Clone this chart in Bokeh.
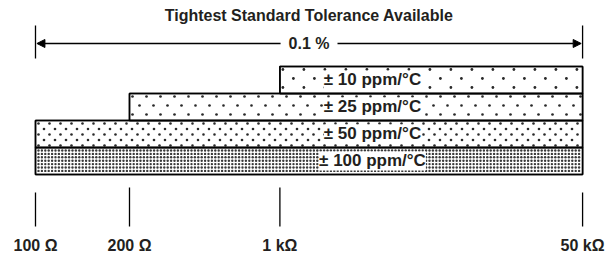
import numpy as np
from bokeh.plotting import figure
from bokeh.models import ColumnDataSource, LabelSet, Arrow, NormalHead, Label, Range1d
from bokeh.core.properties import value
from bokeh.embed import file_html
from bokeh.resources import INLINE

# ---- data ----
resistances = ["100 Ω", "200 Ω", "1 kΩ", "50 kΩ"]
res_pos = [0.0, 1.0, 2.6, 5.82]          # schematic (non-scaled) axis positions
tcr_labels = ["± 100 ppm/°C", "± 50 ppm/°C", "± 25 ppm/°C", "± 10 ppm/°C"]
tcr_min_res = ["100 Ω", "100 Ω", "200 Ω", "1 kΩ"]
tcr_max_res = ["50 kΩ", "50 kΩ", "50 kΩ", "50 kΩ"]
tolerance_text = "0.1 %"
title_text = "Tightest Standard Tolerance Available"

pos = dict(zip(resistances, res_pos))
rows = list(range(len(tcr_labels)))

FONT = "Liberation Sans"
INK = "#231f20"
PX_X = 94.0   # screen pixels per x unit
PX_Y = 27.0   # screen pixels per y unit (one bar)

p = figure(width=608, height=254, output_backend="svg", toolbar_location=None,
           x_range=Range1d(-0.3723, 6.0957), y_range=Range1d(-2.963, 6.444),
           min_border=0, outline_line_color=None)
p.axis.visible = False
p.grid.visible = False

# bars
left = [pos[r] for r in tcr_min_res]
right = [pos[r] for r in tcr_max_res]
p.quad(left=left, right=right, bottom=rows, top=[r + 1 for r in rows],
       fill_color="white", line_color="black", line_width=1.5)

# dot textures inside each bar: (dx px, dy px, staggered rows, dot size, colour)
styles = [(3.4, 3.4, False, 2.4, "#3a3a3a"),   # ±100
          (11.0, 5.5, True, 2.6, "#2a2a2a"),   # ±50
          (14.0, 9.0, True, 2.7, "#2a2a2a"),   # ±25
          (21.0, 9.0, True, 2.8, "#2a2a2a")]   # ±10
for i in rows:
    dx, dy, stag, sz, col = styles[i]
    xs, ys = [], []
    top_px = 3.0
    r = 0
    while top_px + r * dy < PX_Y - 1.5:
        ypx = top_px + r * dy
        off = (dx / 2 if (stag and r % 2) else 0.0) + 3.0
        xpx = np.arange(off, (right[i] - left[i]) * PX_X - 1.5, dx)
        xs.extend(left[i] + xpx / PX_X)
        ys.extend([i + 1 - ypx / PX_Y] * len(xpx))
        r += 1
    p.scatter(x=xs, y=ys, marker="circle", size=sz, fill_color=col, line_color=None)

# redraw bar outlines on top of dots
p.quad(left=left, right=right, bottom=rows, top=[r + 1 for r in rows],
       fill_color=None, line_color="black", line_width=1.5)

# bar labels
lab_src = ColumnDataSource(dict(x=[3.585] * len(rows), y=[r + 0.5 for r in rows], t=tcr_labels))
p.add_layout(LabelSet(x="x", y="y", text="t", source=lab_src,
                      text_align="center", text_baseline="middle",
                      text_font=value(FONT), text_font_style="bold", text_font_size="17px",
                      text_color=INK,
                      background_fill_color="white", background_fill_alpha=1.0))

# resistance ticks and labels
long_ticks = {"200 Ω", "1 kΩ"}
tick_top = [-0.481 if r in long_ticks else -0.667 for r in resistances]
p.segment(x0=res_pos, x1=res_pos, y0=tick_top, y1=[-1.926] * len(res_pos),
          line_color="black", line_width=1.3)
p.text(x=res_pos, y=[-2.62] * len(res_pos), text=resistances,
       text_align="center", text_baseline="middle",
       text_font=value(FONT), text_font_style="bold", text_font_size="16px",
       text_color=INK)

# tolerance span
x0, x1 = res_pos[0], res_pos[-1]
xm = (x0 + x1) / 2
p.segment(x0=[x0, x1], x1=[x0, x1], y0=[5.519, 5.519], y1=[4.296, 4.296],
          line_color="black", line_width=1.3)
for xe in (x0 + 0.015, x1 - 0.015):
    p.add_layout(Arrow(x_start=xm, y_start=4.852, x_end=xe, y_end=4.852, line_width=1.3,
                       end=NormalHead(size=8, fill_color="black", line_color="black")))
p.add_layout(Label(x=xm, y=4.852, text=tolerance_text,
                   text_align="center", text_baseline="middle",
                   text_font=FONT, text_font_style="bold", text_font_size="16px",
                   text_color=INK, background_fill_color="white", padding=8))
p.add_layout(Label(x=xm, y=5.889, text=title_text,
                   text_align="center", text_baseline="middle",
                   text_font=FONT, text_font_style="bold", text_font_size="16px",
                   text_color=INK))

open("out.html", "w").write(file_html(p, INLINE))
